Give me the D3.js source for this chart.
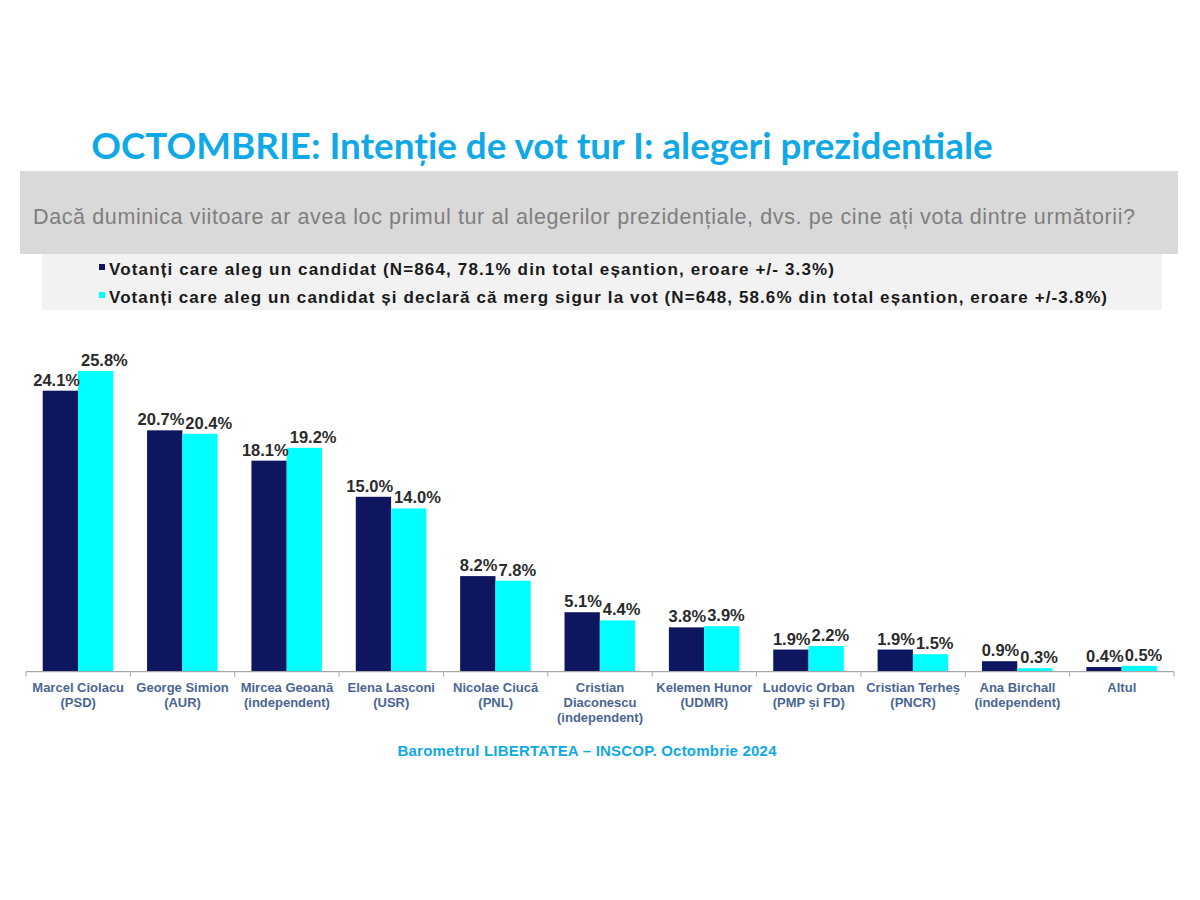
<!DOCTYPE html>
<html>
<head>
<meta charset="utf-8">
<title>OCTOMBRIE: Intenție de vot tur I</title>
<script src="https://cdn.jsdelivr.net/npm/d3@7/dist/d3.min.js"></script>
<style>
body { margin: 0; background: #fff; }
svg { display: block; }
</style>
</head>
<body>
<svg id="chart" width="1200" height="900"></svg>
<script>
// candidates, one line per entry
const candidates = [
  ["Marcel Ciolacu", "(PSD)"],
  ["George Simion", "(AUR)"],
  ["Mircea Geoană", "(independent)"],
  ["Elena Lasconi", "(USR)"],
  ["Nicolae Ciucă", "(PNL)"],
  ["Cristian", "Diaconescu", "(independent)"],
  ["Kelemen Hunor", "(UDMR)"],
  ["Ludovic Orban", "(PMP și FD)"],
  ["Cristian Terheș", "(PNCR)"],
  ["Ana Birchall", "(independent)"],
  ["Altul"]
];
const allVoters = [24.1, 20.7, 18.1, 15.0, 8.2, 5.1, 3.8, 1.9, 1.9, 0.9, 0.4];
const sureVoters = [25.8, 20.4, 19.2, 14.0, 7.8, 4.4, 3.9, 2.2, 1.5, 0.3, 0.5];
const seriesNames = [
  "Votanți care aleg un candidat (N=864, 78.1% din total eșantion, eroare +/- 3.3%)",
  "Votanți care aleg un candidat și declară că merg sigur la vot (N=648, 58.6% din total eșantion, eroare +/-3.8%)"
];
const colors = ["#0f1660", "#00ffff"];

const svg = d3.select("#chart");
const sans = "'Liberation Sans', Arial, sans-serif";

// title
svg.append("text")
  .attr("x", 542).attr("y", 159)
  .attr("text-anchor", "middle")
  .style("font-family", "Lato, 'Open Sans', sans-serif")
  .style("font-weight", "bold")
  .style("font-size", "36.8px")
  .style("fill", "#10a9e6")
  .text("OCTOMBRIE: Intenție de vot tur I: alegeri prezidentiale");

// question box
svg.append("rect").attr("x", 20).attr("y", 171).attr("width", 1158).attr("height", 83).attr("fill", "#d9d9d9");
svg.append("text")
  .attr("x", 584).attr("y", 224)
  .attr("text-anchor", "middle")
  .style("font-family", sans)
  .style("font-size", "21.5px")
  .attr("textLength", 1102)
  .attr("lengthAdjust", "spacing")
  .style("fill", "#7f7f7f")
  .text("Dacă duminica viitoare ar avea loc primul tur al alegerilor prezidențiale, dvs. pe cine ați vota dintre următorii?");

// legend box
svg.append("rect").attr("x", 42).attr("y", 254).attr("width", 1120).attr("height", 56).attr("fill", "#f2f2f2");
const legendEnds = [834, 1107];
const legend = svg.append("g");
seriesNames.forEach((name, i) => {
  const ly = 269 + i * 28;
  legend.append("rect").attr("x", 99).attr("y", ly - 5).attr("width", 6).attr("height", 6).attr("fill", colors[i]);
  legend.append("text")
    .attr("x", 109).attr("y", ly + 6)
    .style("font-family", sans)
    .style("font-weight", "bold")
    .style("font-size", "17px")
    .attr("textLength", legendEnds[i] - 109)
    .attr("lengthAdjust", "spacing")
    .style("fill", "#1a1a1a")
    .text(name);
});

// chart
const baseY = 671.7;
const x = d3.scaleBand().domain(d3.range(candidates.length)).range([26, 1174]);
const x1 = d3.scaleBand().domain([0, 1]).range([16.7, 87.3]);
const y = d3.scaleLinear().domain([0, 26]).range([baseY, baseY - 26 * 11.66]);

const rows = candidates.map((c, i) => ({i, vals: [allVoters[i], sureVoters[i]]}));

const groups = svg.append("g").selectAll("g")
  .data(rows).join("g")
  .attr("transform", d => `translate(${x(d.i)},0)`);

groups.selectAll("rect")
  .data(d => d.vals.map((v, k) => ({v, k})))
  .join("rect")
  .attr("x", d => x1(d.k))
  .attr("width", x1.bandwidth())
  .attr("y", d => y(d.v))
  .attr("height", d => y(0) - y(d.v))
  .attr("fill", d => colors[d.k]);

// first series label ends at its bar's right edge, second starts at its bar's left edge
groups.selectAll("text.val")
  .data(d => d.vals.map((v, k) => ({v, k})))
  .join("text")
  .attr("class", "val")
  .attr("x", d => d.k === 0 ? x1(0) + x1.bandwidth() + 2 : x1(1) + 3)
  .attr("y", d => y(d.v) - 5)
  .attr("text-anchor", d => d.k === 0 ? "end" : "start")
  .style("font-family", sans)
  .style("font-weight", "bold")
  .style("font-size", "16.5px")
  .style("fill", "#2b2b2b")
  .text(d => d.v.toFixed(1) + "%");

// axis with boundary ticks
const axis = svg.append("g").attr("transform", `translate(0,${baseY})`);
axis.append("line").attr("x1", 26).attr("x2", 1174).attr("y1", 0).attr("y2", 0)
  .attr("stroke", "#a6a6a6").attr("stroke-width", 1.2);
const bounds = x.domain().map(d => x(d)).concat([x.range()[1]]);
axis.selectAll("line.tick").data(bounds).join("line")
  .attr("class", "tick")
  .attr("x1", d => d).attr("x2", d => d)
  .attr("y1", 0).attr("y2", 5)
  .attr("stroke", "#a6a6a6");

const labels = svg.append("g").selectAll("text")
  .data(candidates).join("text")
  .attr("x", (d, i) => x(i) + x.bandwidth() / 2)
  .attr("y", 692)
  .attr("text-anchor", "middle")
  .style("font-family", sans)
  .style("font-weight", "bold")
  .style("font-size", "13px")
  .style("fill", "#4a6592");
labels.selectAll("tspan")
  .data(d => d).join("tspan")
  .attr("x", function() { return this.parentNode.getAttribute("x"); })
  .attr("dy", (d, i) => i === 0 ? 0 : 15)
  .text(d => d);

// source
svg.append("text")
  .attr("x", 587).attr("y", 756)
  .attr("text-anchor", "middle")
  .style("font-family", sans)
  .style("font-weight", "bold")
  .style("font-size", "15px")
  .attr("textLength", 379)
  .attr("lengthAdjust", "spacing")
  .style("fill", "#10a9e6")
  .text("Barometrul LIBERTATEA – INSCOP. Octombrie 2024");
</script>
</body>
</html>
